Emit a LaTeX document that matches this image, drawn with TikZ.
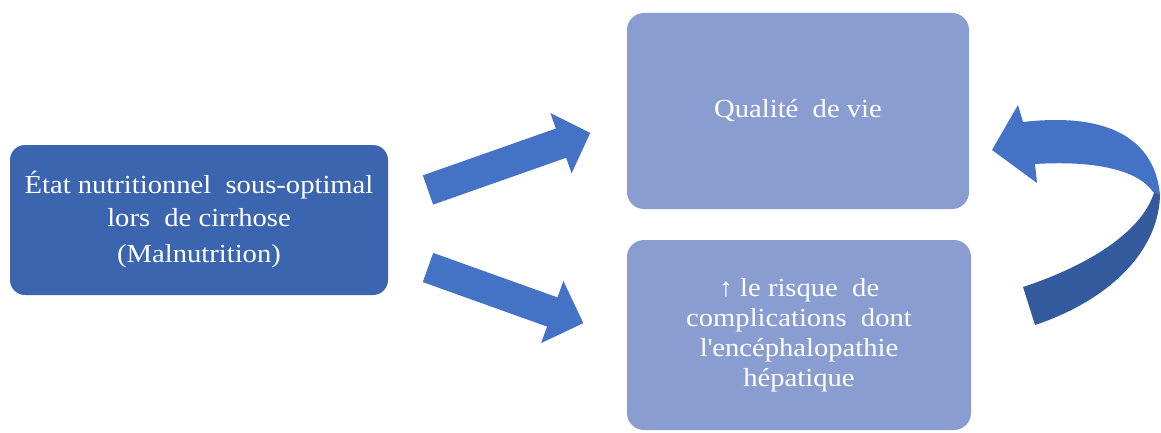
\documentclass[tikz,border=0pt]{standalone}
\usepackage{fontspec}
\setmainfont{Liberation Serif}[FakeStretch=1.1]
\definecolor{darkfill}{HTML}{3C65B0}
\definecolor{lightfill}{HTML}{8A9DD1}
\definecolor{arrowfill}{HTML}{4472C4}
\definecolor{arrowdark}{HTML}{335A9C}
\begin{document}
\begin{tikzpicture}[x=1pt,y=-1pt,
  darkbox/.style={rectangle, rounded corners=15pt, fill=darkfill, text=white,
    align=center, inner sep=0pt, font=\fontsize{26}{33}\selectfont},
  lightbox/.style={rectangle, rounded corners=17pt, fill=lightfill, text=white,
    align=center, inner sep=0pt, font=\fontsize{26}{30}\selectfont},
  blockarrow/.style={fill=arrowfill, draw=none},
  bandlight/.style={fill=arrowfill, draw=none},
  banddark/.style={fill=arrowdark, draw=none}]
\useasboundingbox (0,0) rectangle (1161,433);

% boxes
\node[darkbox, minimum width=378pt, minimum height=150pt] (etat) at (199,220)
  {État nutritionnel~ sous-optimal\\lors~ de cirrhose\\[3pt](Malnutrition)};
\node[lightbox, minimum width=342pt, minimum height=196pt] (qualite) at (798,111)
  {Qualité~ de vie};
\node[lightbox, minimum width=344pt, minimum height=190pt] (risque) at (799,335)
  {↑ le risque~ de\\complications~ dont\\l\textquotesingle encéphalopathie\\hépatique};

% straight block arrows
\begin{scope}[shift={(428,190)}, rotate=19.4]
  \draw[blockarrow] (0,-15.5) -- (141,-15.5) -- (141,-32) -- (172,0)
    -- (141,32) -- (141,15.5) -- (0,15.5) -- cycle;
\end{scope}
\begin{scope}[shift={(428,267.5)}, rotate=-19.7]
  \draw[blockarrow] (0,-15.5) -- (132,-15.5) -- (132,-33) -- (165,0)
    -- (132,33) -- (132,15.5) -- (0,15.5) -- cycle;
\end{scope}

% curved return arrow
\fill[banddark] (1155,189) .. controls (1145,230) and (1090,265) .. (1023,287)
  -- (1035,325) .. controls (1110,300) and (1160,250) .. (1160,193) -- cycle;
\fill[bandlight] (1023,122) .. controls (1110,112) and (1155,140) .. (1160,195)
  -- (1153,192) .. controls (1140,172) and (1100,160) .. (1035,164)
  -- (1037,183) -- (992,150) -- (1018,105) -- cycle;
\end{tikzpicture}
\end{document}
